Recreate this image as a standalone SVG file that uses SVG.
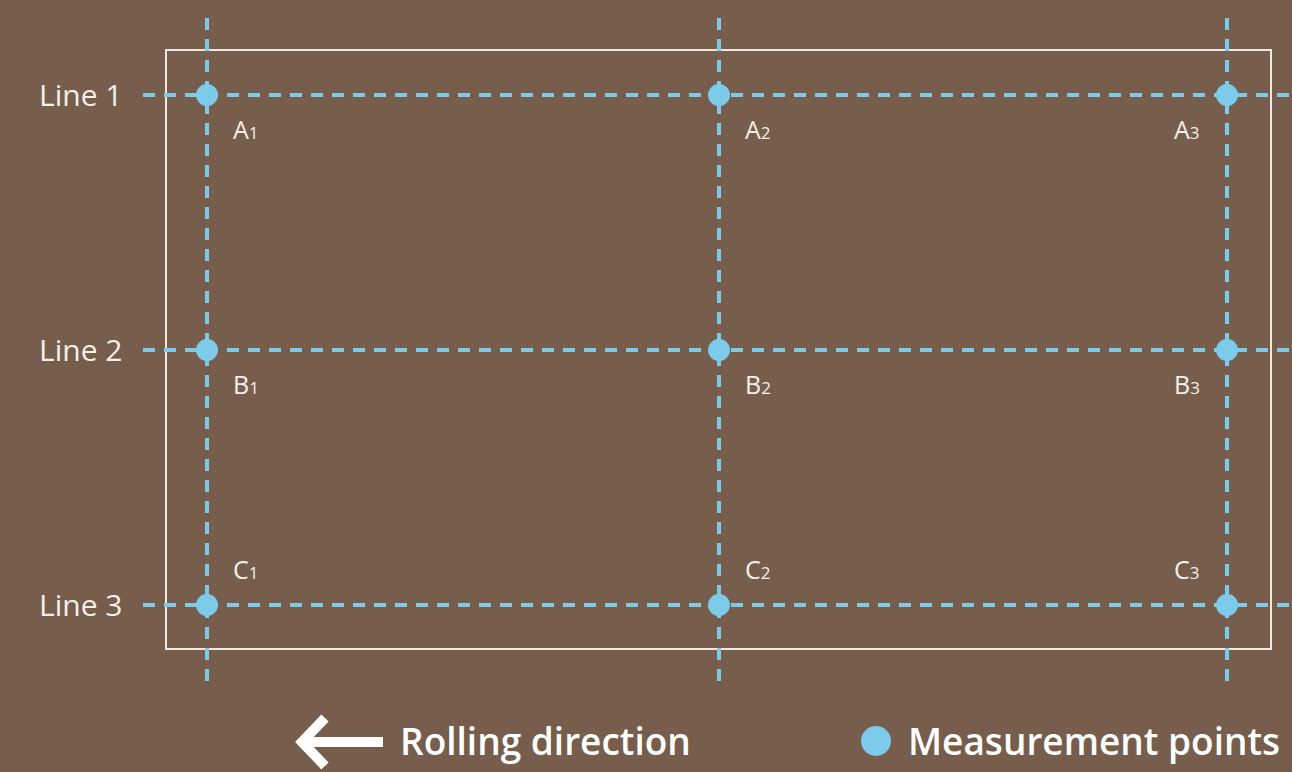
<svg xmlns="http://www.w3.org/2000/svg" width="1292" height="772" viewBox="0 0 1292 772">
<style>
.lbl{font-family:"Open Sans","Liberation Sans",sans-serif;fill:#f4efe9;font-size:30px}
.pt{font-family:"Open Sans","Liberation Sans",sans-serif;fill:#f4efe9;font-size:25px}
.sub{font-size:17px}
.leg{font-family:"Open Sans","Liberation Sans",sans-serif;fill:#ffffff;font-size:37px;font-weight:600}
.grid{stroke:#7ccbea;stroke-width:4;stroke-dasharray:12 9;fill:none}
.dot{fill:#7ccbea}
</style>
<rect width="1292" height="772" fill="#775e4c"/>
<rect x="166" y="50" width="1105" height="599" fill="none" stroke="#efe8e0" stroke-width="2"/>
<g id="connectors">
<line class="grid" x1="143" y1="95" x2="1292" y2="95"/>
<line class="grid" x1="143" y1="350" x2="1292" y2="350"/>
<line class="grid" x1="143" y1="605" x2="1292" y2="605"/>
<line class="grid" x1="207" y1="18" x2="207" y2="682"/>
<line class="grid" x1="719" y1="18" x2="719" y2="682"/>
<line class="grid" x1="1227" y1="18" x2="1227" y2="682"/>
</g>
<g id="line-labels">
<text class="lbl" x="39" y="106">Line 1</text>
<text class="lbl" x="39" y="361">Line 2</text>
<text class="lbl" x="39" y="616">Line 3</text>
</g>
<g id="A1"><circle class="dot" cx="207" cy="95" r="11"/><text class="pt" x="233" y="139">A<tspan class="sub">1</tspan></text></g>
<g id="A2"><circle class="dot" cx="719" cy="95" r="11"/><text class="pt" x="745" y="139">A<tspan class="sub">2</tspan></text></g>
<g id="A3"><circle class="dot" cx="1227" cy="95" r="11"/><text class="pt" x="1174" y="139">A<tspan class="sub">3</tspan></text></g>
<g id="B1"><circle class="dot" cx="207" cy="350" r="11"/><text class="pt" x="233" y="394">B<tspan class="sub">1</tspan></text></g>
<g id="B2"><circle class="dot" cx="719" cy="350" r="11"/><text class="pt" x="745" y="394">B<tspan class="sub">2</tspan></text></g>
<g id="B3"><circle class="dot" cx="1227" cy="350" r="11"/><text class="pt" x="1174" y="394">B<tspan class="sub">3</tspan></text></g>
<g id="C1"><circle class="dot" cx="207" cy="605" r="11"/><text class="pt" x="233" y="579">C<tspan class="sub">1</tspan></text></g>
<g id="C2"><circle class="dot" cx="719" cy="605" r="11"/><text class="pt" x="745" y="579">C<tspan class="sub">2</tspan></text></g>
<g id="C3"><circle class="dot" cx="1227" cy="605" r="11"/><text class="pt" x="1174" y="579">C<tspan class="sub">3</tspan></text></g>
<g id="legend-rolling">
<path d="M383 742 H306 M325 718 L302 742 L325 766" fill="none" stroke="#ffffff" stroke-width="10" stroke-linejoin="miter"/>
<text class="leg" x="400" y="755">Rolling direction</text>
</g>
<g id="legend-points">
<circle class="dot" cx="876" cy="741" r="15"/>
<text class="leg" x="908" y="755">Measurement points</text>
</g>
</svg>
